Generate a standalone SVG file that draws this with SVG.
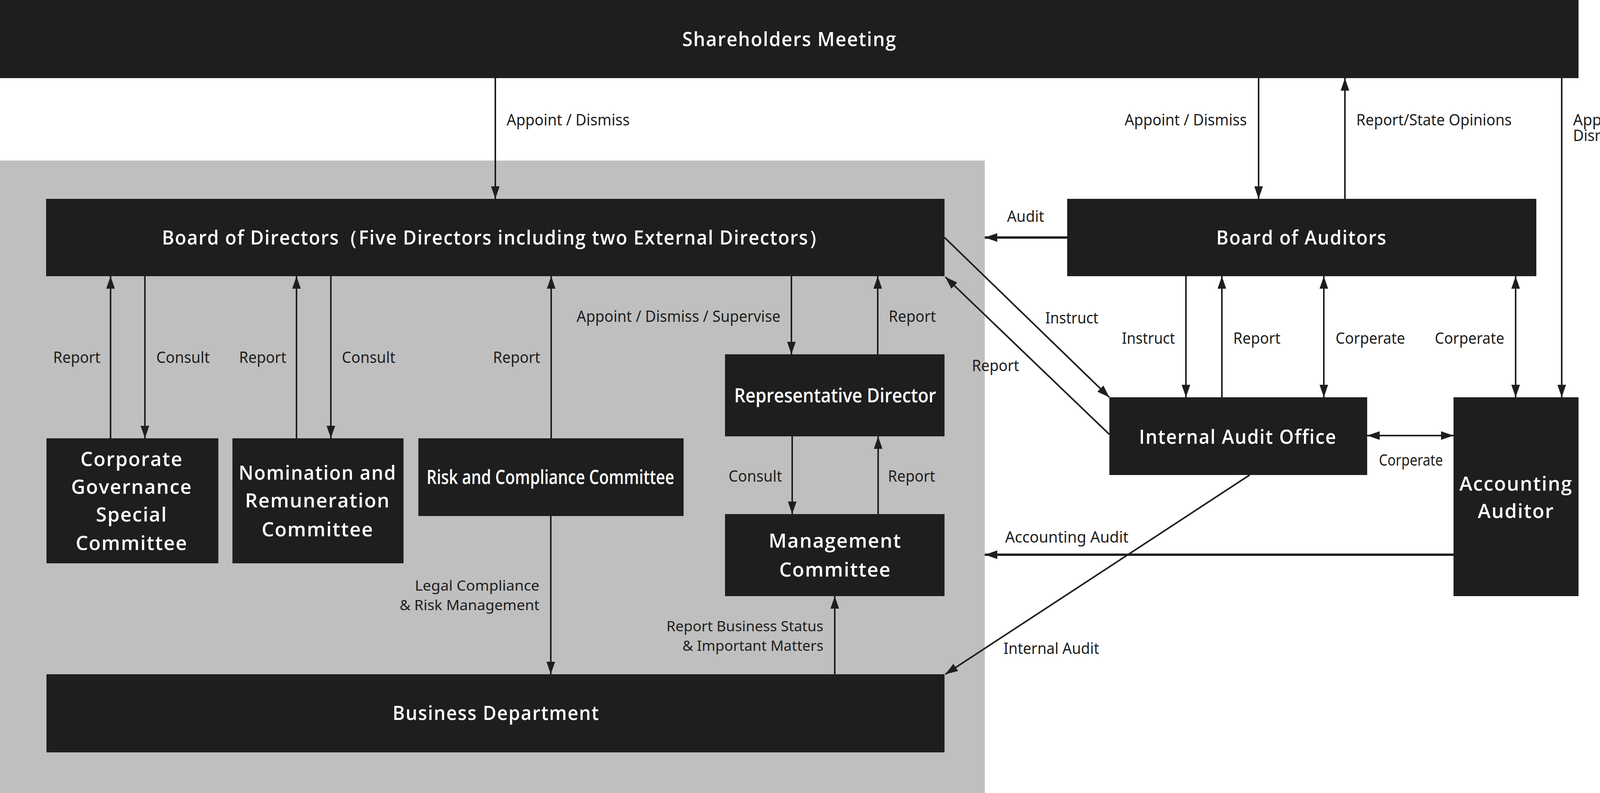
<svg xmlns="http://www.w3.org/2000/svg" width="4264" height="2030" viewBox="0 0 4264 2030">
<style>
.n{fill:#1e1e1e}
.t{fill:#fff;font-family:"Open Sans","Noto Sans",sans-serif;font-size:50px;font-weight:600;letter-spacing:2px;text-anchor:middle}
.l{fill:#1e1e1e;font-family:"Noto Sans","Open Sans",sans-serif;font-size:40px}
.s{font-size:36px}
.c{stroke:#1e1e1e;stroke-width:4;fill:none}
.e{text-anchor:end}
</style>
<defs>
<marker id="a" viewBox="0 0 32 22" refX="32" refY="11" markerWidth="32" markerHeight="22" orient="auto-start-reverse" markerUnits="userSpaceOnUse"><path d="M0,0 L32,11 L0,22 z" fill="#1e1e1e"/></marker>
</defs>
<rect x="0" y="0" width="4264" height="2030" fill="#fff"/>
<rect x="0" y="411" width="2521" height="1619" fill="#bfbfbf"/>

<g id="shareholders"><rect class="n" x="0" y="0" width="4041" height="200"/><text class="t" x="2021" y="118" textLength="549" lengthAdjust="spacingAndGlyphs">Shareholders Meeting</text></g>
<g id="board-directors"><rect class="n" x="118" y="509" width="2300" height="198"/><text class="t" x="1267" y="626" textLength="1705" lengthAdjust="spacingAndGlyphs">Board of Directors（Five Directors including two External Directors）</text></g>
<g id="board-auditors"><rect class="n" x="2732" y="509" width="1201" height="198"/><text class="t" x="3332" y="626" textLength="437" lengthAdjust="spacingAndGlyphs">Board of Auditors</text></g>
<g id="cgsc"><rect class="n" x="119" y="1122" width="440" height="320"/><text class="t" x="337" y="1193">Corporate</text><text class="t" x="337" y="1264">Governance</text><text class="t" x="337" y="1335">Special</text><text class="t" x="337" y="1408">Committee</text></g>
<g id="nomination"><rect class="n" x="595" y="1122" width="438" height="320"/><text class="t" x="813" y="1228" textLength="404" lengthAdjust="spacingAndGlyphs">Nomination and</text><text class="t" x="813" y="1299">Remuneration</text><text class="t" x="813" y="1373">Committee</text></g>
<g id="risk"><rect class="n" x="1071" y="1122" width="679" height="199"/><text class="t" x="1409" y="1239" textLength="634" lengthAdjust="spacingAndGlyphs" style="letter-spacing:0">Risk and Compliance Committee</text></g>
<g id="rep-director"><rect class="n" x="1856" y="907" width="562" height="210"/><text class="t" x="2138" y="1030" textLength="517" lengthAdjust="spacingAndGlyphs" style="letter-spacing:0">Representative Director</text></g>
<g id="management"><rect class="n" x="1856" y="1316" width="562" height="210"/><text class="t" x="2138" y="1402">Management</text><text class="t" x="2138" y="1476">Committee</text></g>
<g id="business"><rect class="n" x="119" y="1726" width="2299" height="200"/><text class="t" x="1270" y="1843" textLength="530" lengthAdjust="spacingAndGlyphs">Business Department</text></g>
<g id="internal-audit"><rect class="n" x="2840" y="1017" width="660" height="199"/><text class="t" x="3169" y="1136" textLength="506" lengthAdjust="spacingAndGlyphs">Internal Audit Office</text></g>
<g id="accounting-auditor"><rect class="n" x="3721" y="1017" width="320" height="509"/><text class="t" x="3881" y="1256">Accounting</text><text class="t" x="3881" y="1326">Auditor</text></g>

<g id="connectors">
<line class="c" x1="1268" y1="200" x2="1268" y2="509" marker-end="url(#a)"/>
<line class="c" x1="283" y1="1122" x2="283" y2="707" marker-end="url(#a)"/>
<line class="c" x1="371" y1="707" x2="371" y2="1122" marker-end="url(#a)"/>
<line class="c" x1="759" y1="1122" x2="759" y2="707" marker-end="url(#a)"/>
<line class="c" x1="847" y1="707" x2="847" y2="1122" marker-end="url(#a)"/>
<line class="c" x1="1411" y1="1122" x2="1411" y2="707" marker-end="url(#a)"/>
<line class="c" x1="2026" y1="707" x2="2026" y2="907" marker-end="url(#a)"/>
<line class="c" x1="2247" y1="907" x2="2247" y2="707" marker-end="url(#a)"/>
<line class="c" x1="2028" y1="1117" x2="2028" y2="1316" marker-end="url(#a)"/>
<line class="c" x1="2248" y1="1316" x2="2248" y2="1117" marker-end="url(#a)"/>
<line class="c" x1="1410" y1="1321" x2="1410" y2="1726" marker-end="url(#a)"/>
<line class="c" x1="2137" y1="1726" x2="2137" y2="1526" marker-end="url(#a)"/>
<line class="c" x1="3222" y1="200" x2="3222" y2="509" marker-end="url(#a)"/>
<line class="c" x1="3443" y1="509" x2="3443" y2="200" marker-end="url(#a)"/>
<line class="c" x1="3998" y1="200" x2="3998" y2="1017" marker-end="url(#a)"/>
<line class="c" style="stroke-width:6" x1="2732" y1="608" x2="2521" y2="608" marker-end="url(#a)"/>
<line class="c" x1="3036" y1="707" x2="3036" y2="1017" marker-end="url(#a)"/>
<line class="c" x1="3128" y1="1017" x2="3128" y2="707" marker-end="url(#a)"/>
<line class="c" x1="3389" y1="707" x2="3389" y2="1017" marker-start="url(#a)" marker-end="url(#a)"/>
<line class="c" x1="3880" y1="707" x2="3880" y2="1017" marker-start="url(#a)" marker-end="url(#a)"/>
<line class="c" x1="3500" y1="1115" x2="3721" y2="1115" marker-start="url(#a)" marker-end="url(#a)"/>
<line class="c" x1="2418" y1="608" x2="2840" y2="1017" marker-end="url(#a)"/>
<line class="c" x1="2840" y1="1112" x2="2420" y2="709" marker-end="url(#a)"/>
<line class="c" x1="3199" y1="1216" x2="2420" y2="1726" marker-end="url(#a)"/>
<line class="c" style="stroke-width:6" x1="3721" y1="1420" x2="2521" y2="1420" marker-end="url(#a)"/>
</g>

<g id="labels">
<text class="l" x="1297" y="321" textLength="315" lengthAdjust="spacingAndGlyphs">Appoint / Dismiss</text>
<text class="l" x="136" y="929" textLength="121" lengthAdjust="spacingAndGlyphs">Report</text>
<text class="l" x="400" y="929" textLength="137" lengthAdjust="spacingAndGlyphs">Consult</text>
<text class="l" x="612" y="929" textLength="121" lengthAdjust="spacingAndGlyphs">Report</text>
<text class="l" x="875" y="929" textLength="137" lengthAdjust="spacingAndGlyphs">Consult</text>
<text class="l" x="1262" y="929" textLength="121" lengthAdjust="spacingAndGlyphs">Report</text>
<text class="l" x="1476" y="824" textLength="522" lengthAdjust="spacingAndGlyphs">Appoint / Dismiss / Supervise</text>
<text class="l" x="2275" y="824" textLength="121" lengthAdjust="spacingAndGlyphs">Report</text>
<text class="l" x="1865" y="1233" textLength="137" lengthAdjust="spacingAndGlyphs">Consult</text>
<text class="l" x="2273" y="1233" textLength="121" lengthAdjust="spacingAndGlyphs">Report</text>
<text class="l s e" x="1381" y="1512" textLength="319" lengthAdjust="spacingAndGlyphs">Legal Compliance</text>
<text class="l s e" x="1381" y="1562" textLength="358" lengthAdjust="spacingAndGlyphs">&amp; Risk Management</text>
<text class="l s e" x="2108" y="1616" textLength="402" lengthAdjust="spacingAndGlyphs">Report Business Status</text>
<text class="l s e" x="2108" y="1666" textLength="361" lengthAdjust="spacingAndGlyphs">&amp; Important Matters</text>
<text class="l e" x="3192" y="321" textLength="313" lengthAdjust="spacingAndGlyphs">Appoint / Dismiss</text>
<text class="l" x="3472" y="321" textLength="398" lengthAdjust="spacingAndGlyphs">Report/State Opinions</text>
<text class="l" x="4027" y="321" textLength="170" lengthAdjust="spacingAndGlyphs">Appoint /</text>
<text class="l" x="4027" y="361" textLength="136" lengthAdjust="spacingAndGlyphs">Dismiss</text>
<text class="l" x="2578" y="568" textLength="95" lengthAdjust="spacingAndGlyphs">Audit</text>
<text class="l" x="2676" y="828" textLength="136" lengthAdjust="spacingAndGlyphs">Instruct</text>
<text class="l" x="2488" y="950" textLength="121" lengthAdjust="spacingAndGlyphs">Report</text>
<text class="l" x="2872" y="880" textLength="136" lengthAdjust="spacingAndGlyphs">Instruct</text>
<text class="l" x="3157" y="880" textLength="121" lengthAdjust="spacingAndGlyphs">Report</text>
<text class="l" x="3419" y="880" textLength="178" lengthAdjust="spacingAndGlyphs">Corperate</text>
<text class="l" x="3673" y="880" textLength="178" lengthAdjust="spacingAndGlyphs">Corperate</text>
<text class="l" x="3530" y="1192" textLength="164" lengthAdjust="spacingAndGlyphs">Corperate</text>
<text class="l" x="2573" y="1389" textLength="316" lengthAdjust="spacingAndGlyphs">Accounting Audit</text>
<text class="l" x="2569" y="1674" textLength="245" lengthAdjust="spacingAndGlyphs">Internal Audit</text>
</g>
</svg>
